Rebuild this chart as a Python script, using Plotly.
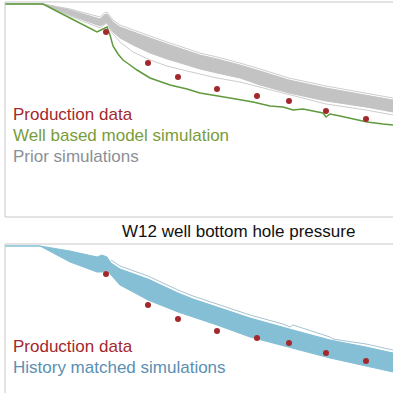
import plotly.graph_objects as go

W, H = 393, 393

# ---------------- data ----------------
# production data (days, pressure)
prod_t = [1010, 1430, 1730, 2120, 2520, 2840, 3210, 3610]
prod_p = [270, 239, 225, 213, 206, 201, 191, 183]

# well based model simulation (top panel)
well_t = [0, 380, 650, 920, 980, 1020, 1050, 1080, 1130, 1180, 1250, 1320, 1450, 1650, 1820,
          1950, 2250, 2480, 2650, 2780, 2850, 2880, 2980, 3100, 3180, 3210, 3250, 3350, 3450,
          3620, 3780, 3880]
well_p = [298, 298, 284, 270, 273, 275, 267, 256, 248, 242, 237, 232, 224, 217, 213,
          209, 204, 200, 196, 195, 193, 192, 193, 191, 189, 185, 188, 186, 184,
          180, 178, 177]

# prior simulations envelope (top panel)
prior_t = [0, 380, 650, 950, 990, 1020, 1050, 1080, 1150, 1280, 1450, 1620, 1820, 1950, 2120,
           2350, 2550, 2840, 3210, 3610, 3880]
prior_hi = [298, 298, 292, 283, 287, 288, 284, 280, 275, 270, 264, 258, 251, 247, 243,
            237, 231, 222, 214, 207, 202]
prior_lo = [298, 298, 287, 276, 278, 280, 274, 270, 264, 257, 249, 243, 237, 233, 229,
            224, 217, 209, 201, 195, 190]
prior_out_lo = [298, 298, 286, 274, 277, 279, 272, 268, 260, 250, 242, 236, 231, 228, 224,
                220, 215, 207, 198, 192, 187]
prior_out_hi = [298, 298, 293, 285, 289, 290, 286, 282, 277, 272, 266, 260, 253, 249, 245,
                239, 233, 224, 216, 209, 204]

# history matched simulations envelope (bottom panel)
hm_t = [0, 350, 650, 920, 970, 1020, 1060, 1150, 1430, 1730, 1880, 2120, 2450, 2880, 3250,
        3610, 3880]
hm_hi = [298, 298, 293, 287, 289, 287, 281, 275, 265, 251, 245, 237, 226, 214, 204, 197, 191]
hm_lo = [298, 298, 282, 272, 272, 274, 269, 259, 244, 232, 227, 219, 207, 196, 186, 178, 172]
hm_out_t = [1060, 1150, 1430, 1730, 1880, 2120, 2450, 2780, 2850, 2880, 3250, 3280, 3580,
            3610, 3880]
hm_out_p = [284, 278, 268, 254, 248, 240, 229, 220, 217, 219, 207, 205, 201, 200, 194]

title_text = "W12 well bottom hole pressure"
top_labels = ["Production data", "Well based model simulation", "Prior simulations"]
bottom_labels = ["Production data", "History matched simulations"]

# ---------------- styles ----------------
RED = "#a3282c"
GREEN = "#5f9a3c"
GRAY_FILL = "#c3c3c3"
GRAY_LINE = "#cdcdcd"
BLUE_FILL = "#84bfd5"
BLUE_LINE = "#a9c3d1"
BORDER = "#c8c8c8"

fig = go.Figure()

# ---- top panel ----
fig.add_trace(go.Scatter(x=prior_t, y=prior_out_hi, mode="lines",
                         line=dict(color=GRAY_LINE, width=1), xaxis="x", yaxis="y"))
fig.add_trace(go.Scatter(x=prior_t, y=prior_out_lo, mode="lines",
                         line=dict(color=GRAY_LINE, width=1), xaxis="x", yaxis="y"))
fig.add_trace(go.Scatter(x=prior_t, y=prior_hi, mode="lines",
                         line=dict(color=GRAY_FILL, width=1), xaxis="x", yaxis="y"))
fig.add_trace(go.Scatter(x=prior_t, y=prior_lo, mode="lines", fill="tonexty",
                         fillcolor=GRAY_FILL,
                         line=dict(color=GRAY_FILL, width=1), xaxis="x", yaxis="y"))
fig.add_trace(go.Scatter(x=well_t, y=well_p, mode="lines",
                         line=dict(color=GREEN, width=1.5), xaxis="x", yaxis="y"))
fig.add_trace(go.Scatter(x=prod_t, y=prod_p, mode="markers",
                         marker=dict(color=RED, size=6), xaxis="x", yaxis="y"))

# ---- bottom panel ----
fig.add_trace(go.Scatter(x=hm_out_t, y=hm_out_p, mode="lines",
                         line=dict(color=BLUE_LINE, width=1), xaxis="x2", yaxis="y2"))
fig.add_trace(go.Scatter(x=hm_t, y=hm_hi, mode="lines",
                         line=dict(color=BLUE_FILL, width=1), xaxis="x2", yaxis="y2"))
fig.add_trace(go.Scatter(x=hm_t, y=hm_lo, mode="lines", fill="tonexty",
                         fillcolor=BLUE_FILL,
                         line=dict(color=BLUE_FILL, width=1), xaxis="x2", yaxis="y2"))
fig.add_trace(go.Scatter(x=prod_t, y=prod_p, mode="markers",
                         marker=dict(color=RED, size=6), xaxis="x2", yaxis="y2"))

xl = 5 / W
ax_common = dict(showgrid=False, zeroline=False, showticklabels=False, showline=False, ticks="")
top_y0 = (H - 217) / H
top_y1 = (H - 2) / H
bot_y1 = (H - 244) / H

fig.update_layout(
    width=W, height=H,
    margin=dict(l=0, r=0, t=0, b=0),
    paper_bgcolor="white", plot_bgcolor="white",
    showlegend=False,
    font=dict(family="Liberation Sans, Arial, sans-serif"),
    xaxis=dict(domain=[xl, 1], range=[0, 3880], anchor="y", **ax_common),
    yaxis=dict(domain=[top_y0, top_y1], range=[85, 300], anchor="x", **ax_common),
    xaxis2=dict(domain=[xl, 1], range=[0, 3880], anchor="y2", **ax_common),
    yaxis2=dict(domain=[0, bot_y1], range=[151, 300], anchor="x2", **ax_common),
)

# panel borders
shapes = []
for (x0, y0, x1, y1) in [
    (xl, top_y1, 1.02, top_y1), (xl, top_y0, 1.02, top_y0), (xl, top_y0, xl, top_y1),
    (xl, bot_y1, 1.02, bot_y1), (xl, -0.02, xl, bot_y1),
]:
    shapes.append(dict(type="line", xref="paper", yref="paper", x0=x0, y0=y0, x1=x1, y1=y1,
                       line=dict(color=BORDER, width=1)))
fig.update_layout(shapes=shapes)

ann = []
top_colors = [RED, "#7a9c3c", "#8b8f97"]
top_ys = [114, 135, 156]
for txt, c, yy in zip(top_labels, top_colors, top_ys):
    ann.append(dict(text=txt, x=11 / W, y=1 - yy / H, xref="paper", yref="paper",
                    xanchor="left", yanchor="middle", showarrow=False,
                    font=dict(size=17, color=c)))
bot_colors = [RED, "#5a8fb3"]
bot_ys = [346, 367]
for txt, c, yy in zip(bottom_labels, bot_colors, bot_ys):
    ann.append(dict(text=txt, x=11 / W, y=1 - yy / H, xref="paper", yref="paper",
                    xanchor="left", yanchor="middle", showarrow=False,
                    font=dict(size=17, color=c)))
ann.append(dict(text=title_text, x=238 / W, y=1 - 232 / H, xref="paper", yref="paper",
                xanchor="center", yanchor="middle", showarrow=False,
                font=dict(size=17, color="#111111")))
fig.update_layout(annotations=ann)

fig.write_html("out.html", config={"displayModeBar": False},
               post_script="document.body.style.margin='0';document.body.style.overflow='hidden';")
